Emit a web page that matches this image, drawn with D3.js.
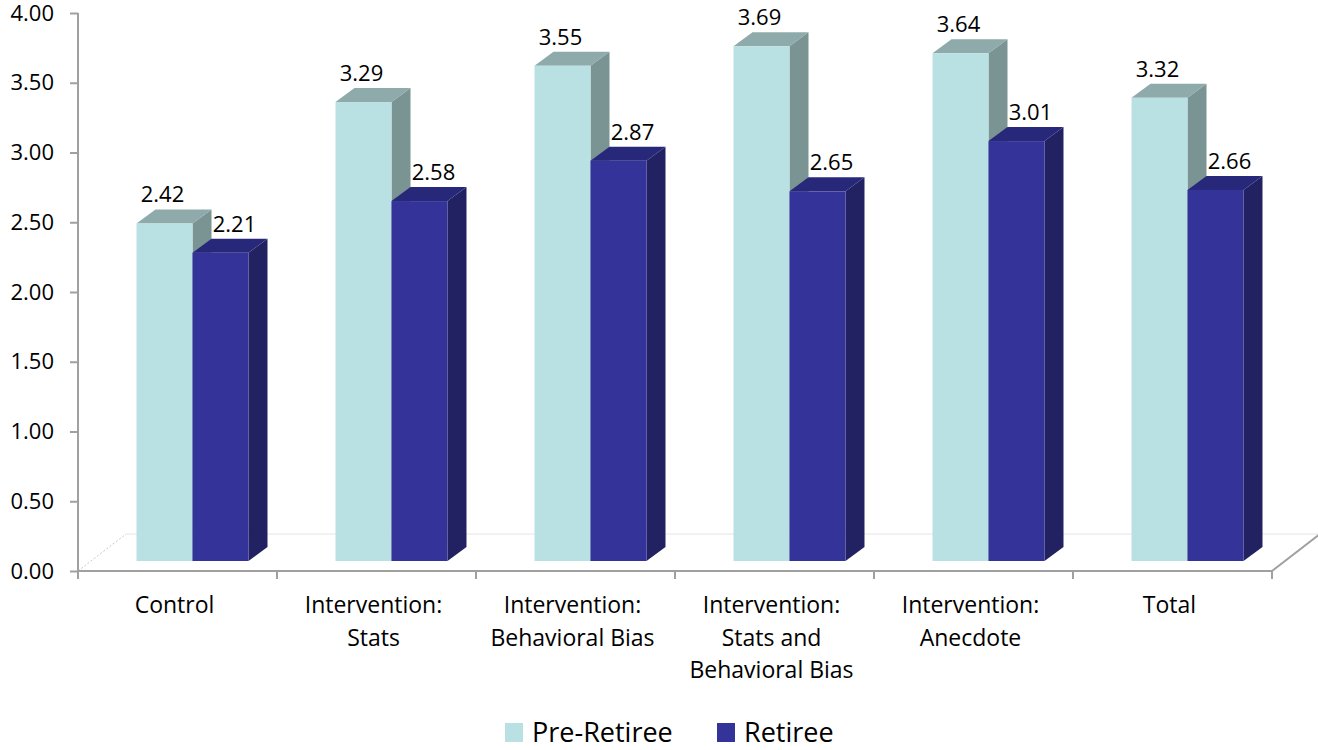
<!DOCTYPE html>
<html>
<head>
<meta charset="utf-8">
<script src="https://cdn.jsdelivr.net/npm/d3@7"></script>
<style>
  html, body { margin: 0; padding: 0; background: #fff; }
  svg { display: block; font-family: "Open Sans", "Liberation Sans", sans-serif; }
</style>
</head>
<body>
<svg id="chart" width="1318" height="750"></svg>
<script>
// Chart data
const categories = [
  "Control",
  "Intervention: Stats",
  "Intervention: Behavioral Bias",
  "Intervention: Stats and Behavioral Bias",
  "Intervention: Anecdote",
  "Total"
];
const categoryLines = [
  ["Control"],
  ["Intervention:", "Stats"],
  ["Intervention:", "Behavioral Bias"],
  ["Intervention:", "Stats and", "Behavioral Bias"],
  ["Intervention:", "Anecdote"],
  ["Total"]
];
const seriesNames = ["Pre-Retiree", "Retiree"];
const preRetiree = [2.42, 3.29, 3.55, 3.69, 3.64, 3.32];
const retiree = [2.21, 2.58, 2.87, 2.65, 3.01, 2.66];
const yTicks = [0, 0.5, 1, 1.5, 2, 2.5, 3, 3.5, 4];

const seriesValues = [preRetiree, retiree];
const palette = {
  "Pre-Retiree": { front: "#b9e0e2", top: "#8eaaab", side: "#7a9393", labelDx: -2 },
  "Retiree":     { front: "#333399", top: "#28287a", side: "#222262", labelDx: 14 }
};

const svg = d3.select("#chart");

// Front plane of the plot box
const plotLeft = 78, plotRight = 1272, plotBottom = 571, plotTop = 13;
const floorDepth = { x: 48, y: -37 };   // depth of the floor
const barShift = { x: 15, y: -10 };     // bars sit a little behind the front plane
const barDepth = { x: 19, y: -14 };     // thickness of each column

const y = d3.scaleLinear().domain([0, 4]).range([plotBottom, plotTop]);
const x = d3.scaleBand().domain(categories).range([plotLeft, plotRight]);
const xInner = d3.scaleBand().domain(seriesNames)
  .range([0, x.bandwidth()]).paddingInner(0).paddingOuter(0.777);

const axisColor = "#a0a0a0";

// Floor
const floor = svg.append("g");
floor.append("line")
  .attr("x1", plotLeft + floorDepth.x).attr("y1", plotBottom + floorDepth.y)
  .attr("x2", plotRight + floorDepth.x).attr("y2", plotBottom + floorDepth.y)
  .attr("stroke", "#e4e4e4").attr("stroke-width", 1);
floor.append("line")
  .attr("x1", plotLeft).attr("y1", plotBottom)
  .attr("x2", plotLeft + floorDepth.x).attr("y2", plotBottom + floorDepth.y)
  .attr("stroke", "#c8c8c8").attr("stroke-width", 1).attr("stroke-dasharray", "2,2");
floor.append("line")
  .attr("x1", plotRight).attr("y1", plotBottom)
  .attr("x2", plotRight + floorDepth.x).attr("y2", plotBottom + floorDepth.y)
  .attr("stroke", axisColor).attr("stroke-width", 2);

// Columns
const bars = svg.append("g");
categories.forEach((cat, ci) => {
  seriesNames.forEach((s, si) => {
    const v = seriesValues[si][ci];
    const c = palette[s];
    const x0 = x(cat) + xInner(s) + barShift.x;
    const x1 = x0 + xInner.bandwidth();
    const y0 = y(0) + barShift.y;
    const yt = y(v) + barShift.y;
    const dx = barDepth.x, dy = barDepth.y;
    const g = bars.append("g");
    // side face
    g.append("path")
      .attr("d", `M${x1},${yt}L${x1 + dx},${yt + dy}L${x1 + dx},${y0 + dy}L${x1},${y0}Z`)
      .attr("fill", c.side);
    // top face
    g.append("path")
      .attr("d", `M${x0},${yt}L${x0 + dx},${yt + dy}L${x1 + dx},${yt + dy}L${x1},${yt}Z`)
      .attr("fill", c.top);
    // front face
    g.append("rect")
      .attr("x", x0).attr("y", yt)
      .attr("width", x1 - x0).attr("height", y0 - yt)
      .attr("fill", c.front);
    // value label
    svg.append("text")
      .attr("x", (x0 + x1) / 2 + c.labelDx)
      .attr("y", yt + dy - 7)
      .attr("text-anchor", "middle")
      .attr("font-size", 22)
      .attr("fill", "#000")
      .text(v.toFixed(2));
  });
});

// Front edge of the floor / category axis
svg.append("line")
  .attr("x1", plotLeft).attr("y1", plotBottom).attr("x2", plotRight).attr("y2", plotBottom)
  .attr("stroke", axisColor).attr("stroke-width", 2);
const catTicks = categories.map(c => x(c)).concat([plotRight]);
svg.append("g").selectAll("line").data(catTicks).join("line")
  .attr("x1", d => d).attr("x2", d => d)
  .attr("y1", plotBottom).attr("y2", plotBottom + 8)
  .attr("stroke", axisColor).attr("stroke-width", 2);

// Category labels
const catG = svg.append("g").attr("font-size", 23).attr("fill", "#000");
categories.forEach((cat, ci) => {
  const cx = x(cat) + x.bandwidth() / 2 - 3;
  const t = catG.append("text")
    .attr("text-anchor", "middle")
    .attr("x", cx)
    .attr("y", 613);
  categoryLines[ci].forEach((line, li) => {
    t.append("tspan")
      .attr("x", cx)
      .attr("dy", li === 0 ? 0 : 32.5)
      .text(line);
  });
});

// Value axis
const yAxis = d3.axisLeft(y).tickValues(yTicks).tickFormat(d3.format(".2f"))
  .tickSize(8).tickSizeOuter(0).tickPadding(16);
const yg = svg.append("g").attr("transform", `translate(${plotLeft},0)`).call(yAxis);
yg.select(".domain").attr("stroke", axisColor).attr("stroke-width", 2)
  .attr("d", `M0,${plotTop}V${plotBottom + 8}`);
yg.selectAll(".tick line").attr("stroke", axisColor).attr("stroke-width", 2);
yg.selectAll(".tick text")
  .attr("font-size", 22).attr("fill", "#000")
  .attr("font-family", "'Open Sans', sans-serif");

// Legend
const legend = svg.append("g").attr("font-size", 27).attr("fill", "#000");
const legendItems = [
  { name: "Pre-Retiree", x: 505 },
  { name: "Retiree", x: 717 }
];
legendItems.forEach(item => {
  legend.append("rect")
    .attr("x", item.x).attr("y", 723).attr("width", 18).attr("height", 19)
    .attr("fill", palette[item.name].front);
  legend.append("text")
    .attr("x", item.x + 27).attr("y", 742)
    .text(item.name);
});
</script>
</body>
</html>
